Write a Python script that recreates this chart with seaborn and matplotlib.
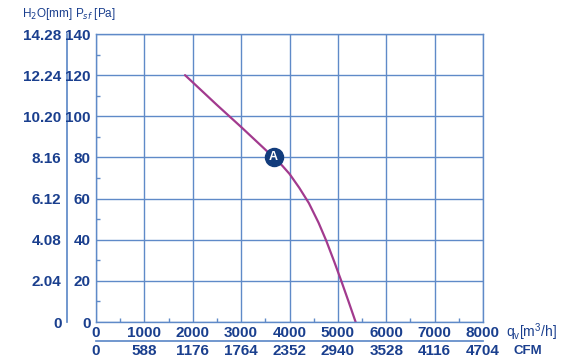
import matplotlib
matplotlib.use("Agg")
import matplotlib.pyplot as plt
import seaborn as sns
import pandas as pd
import numpy as np

# Data
flow_m3h = [1840, 2000, 2500, 3000, 3500, 3670, 3850, 4000, 4200, 4400, 4600, 4760, 4925, 5070, 5220, 5367]
pressure_pa = [120, 116.5, 105.5, 94.8, 83.8, 80, 76, 72, 65.3, 57.8, 48.3, 39.5, 29.3, 20, 10, 0]
point_a_flow = [3670]
point_a_pa = [80]
point_a_label = ["A"]
x_ticks = [0, 1000, 2000, 3000, 4000, 5000, 6000, 7000, 8000]
cfm_labels = ["0", "588", "1176", "1764", "2352", "2940", "3528", "4116", "4704"]
y_ticks = [0, 20, 40, 60, 80, 100, 120, 140]
mm_labels = ["0", "2.04", "4.08", "6.12", "8.16", "10.20", "12.24", "14.28"]

sns.set_theme(style="white")
plt.rcParams['font.family'] = ['Liberation Sans', 'DejaVu Sans']

GRID = "#5f8ac8"
TEXT = "#1a3f8e"
CURVE = "#a23a8e"
NAVY = "#123c7c"

fig = plt.figure(figsize=(5.73, 3.63), dpi=100)
ax = fig.add_axes([96/573, 1-322/363, (483-96)/573, (322-34)/363])

df = pd.DataFrame({"flow": flow_m3h, "pa": pressure_pa})
sns.lineplot(data=df, x="flow", y="pa", ax=ax, color=CURVE, lw=1.6, sort=False)
ax.plot(point_a_flow, point_a_pa, "o", ms=13, color=NAVY, zorder=5)
for fx, py, lab in zip(point_a_flow, point_a_pa, point_a_label):
    ax.text(fx, py, lab, color="white", fontsize=9, fontweight="bold",
            ha="center", va="center", zorder=6)

ax.set_xlim(0, 8000)
ax.set_ylim(0, 140)
ax.set_xticks(x_ticks)
ax.set_xticklabels([str(v) for v in x_ticks], fontweight="bold")
ax.set_yticks(y_ticks)
ax.set_yticklabels([str(v) for v in y_ticks], fontweight="bold")
ax.set_xticks(np.arange(500, 8000, 1000), minor=True)
ax.set_yticks(np.arange(10, 140, 20), minor=True)
ax.grid(True, which="major", color=GRID, lw=1.0)
ax.set_axisbelow(True)
for s in ax.spines.values():
    s.set_color(GRID)
    s.set_linewidth(1.0)
ax.tick_params(which="major", length=0, labelsize=11, labelcolor=TEXT)
ax.tick_params(axis="x", which="major", pad=3)
ax.tick_params(axis="y", which="major", pad=4)
ax.tick_params(which="minor", direction="in", length=3, color=GRID, width=1,
               bottom=True, left=True)
ax.set_xlabel("")
ax.set_ylabel("")

# secondary mm axis on left
sec_y = ax.secondary_yaxis(-0.075)
sec_y.set_yticks(y_ticks)
sec_y.set_yticklabels(mm_labels, fontweight="bold")
sec_y.spines["left"].set_color(GRID)
sec_y.tick_params(length=0, labelsize=11, labelcolor=TEXT, pad=4)

# secondary CFM axis below
sec_x = ax.secondary_xaxis(-0.066)
sec_x.set_xticks(x_ticks)
sec_x.set_xticklabels(cfm_labels, fontweight="bold")
sec_x.spines["bottom"].set_color(GRID)
sec_x.tick_params(length=0, labelsize=11, labelcolor=TEXT, pad=2)

fig.text(22/573, 1-14/363, "H$_2$O[mm]", color=TEXT, fontsize=8.5, ha="left", va="center")
fig.text(75/573, 1-14/363, "P$_{sf}$ [Pa]", color=TEXT, fontsize=8.5, ha="left", va="center")
fig.text(506/573, 1-332/363, "q$_\\mathregular{v}$[m$^\\mathregular{3}$/h]", color=TEXT, fontsize=10, ha="left", va="center")
fig.text(513/573, 1-351/363, "CFM", color=TEXT, fontsize=9.5, fontweight="bold", ha="left", va="center")

fig.savefig("out.png", dpi=100)
